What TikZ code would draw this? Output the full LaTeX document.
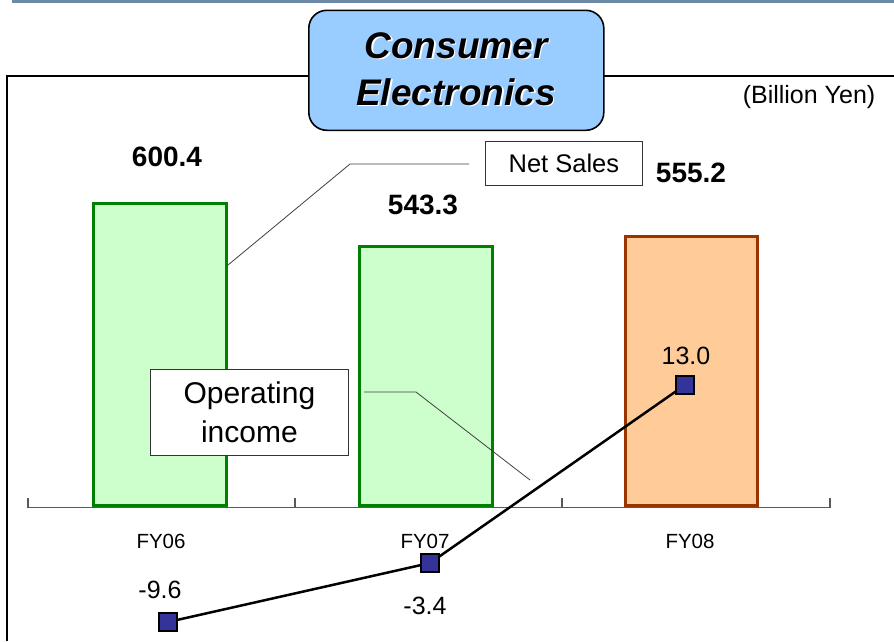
\documentclass[tikz,border=0pt]{standalone}
\usepackage{fontspec}
\setmainfont{Liberation Sans}
\begin{document}
\begin{tikzpicture}[x=1pt,y=-1pt,
  greenbar/.style={draw=green!50!black,line width=3pt,fill={rgb,255:red,204;green,255;blue,204},anchor=south west,inner sep=0pt},
  orangebar/.style={draw={rgb,255:red,153;green,51;blue,0},line width=3pt,fill={rgb,255:red,255;green,204;blue,153},anchor=south west,inner sep=0pt},
  valuelbl/.style={font=\fontsize{28}{30}\selectfont\bfseries,inner sep=0pt},
  pointlbl/.style={font=\fontsize{25}{27}\selectfont,inner sep=0pt},
  yearlbl/.style={font=\fontsize{20.5}{22}\selectfont,inner sep=0pt},
  legendbox/.style={draw=black!80,line width=0.8pt,fill=white,inner sep=0pt,align=center},
  leader/.style={draw=black!75,line width=0.8pt},
  marker/.style={draw=black,line width=2pt,fill={rgb,255:red,51;green,51;blue,153},minimum size=18pt,inner sep=0pt},
  titletext/.style={font=\fontsize{37}{47}\selectfont\bfseries\itshape,align=center,inner sep=0pt}
]
\useasboundingbox (0,0) rectangle (894,641);

% rule along the top edge
\draw[line width=2.5pt,draw={rgb,255:red,108;green,137;blue,166}] (12,1.5) -- (894,1.5);

% chart frame
\draw[line width=1.2pt] (7,641) -- (7,76) -- (308,76);
\draw[line width=1.2pt] (603,76) -- (894,76);

% title box
\node[draw=black,line width=1.6pt,rounded corners=18pt,fill={rgb,255:red,153;green,204;blue,255},
      minimum width=295pt,minimum height=120pt,anchor=north west,inner sep=0pt] (title) at (308,9.5) {};
\node[titletext,text=white] at (457.5,70.5) {Consumer\\Electronics};
\node[titletext] (titlelbl) at (456,69) {Consumer\\Electronics};

\node[font=\fontsize{25}{27}\selectfont,inner sep=0pt] (unit) at (809,97) {(Billion Yen)};

% bars
\node[greenbar,minimum width=133pt,minimum height=302pt] (b06) at (92,507) {};
\node[greenbar,minimum width=133pt,minimum height=259pt] (b07) at (358,507) {};
\node[orangebar,minimum width=132pt,minimum height=269pt] (b08) at (624,507) {};

% category axis
\draw[line width=1.5pt,draw=black!65] (28,507.5) -- (830,507.5);
\foreach \tx in {28,295,562,830}
  \draw[line width=1.2pt,draw=black!65] (\tx,507.5) -- (\tx,498);
\node[yearlbl] (y06) at (161,541) {FY06};
\node[yearlbl] (y07) at (425,541) {FY07};
\node[yearlbl] (y08) at (690,541) {FY08};

% net sales values
\node[valuelbl] (v06) at (167,157) {600.4};
\node[valuelbl] (v07) at (423,205) {543.3};
\node[valuelbl] (v08) at (691,173) {555.2};

% net sales legend and its leader
\node[legendbox,minimum width=157pt,minimum height=44pt,anchor=north west,font=\fontsize{25.5}{27}\selectfont] (ns) at (485,141) {Net Sales};
\coordinate (nsA) at (469,164);
\coordinate (nsB) at (350,164);
\coordinate (nsC) at (228,265);
\draw[leader] (nsA) -- (nsB) -- (nsC);

% operating income legend and its leader
\node[legendbox,minimum width=198pt,minimum height=86pt,anchor=north west,font=\fontsize{30}{39}\selectfont] (oi) at (150,369) {Operating\\income};
\coordinate (oiA) at (364,392);
\coordinate (oiB) at (416,392);
\coordinate (oiC) at (530,480);
\draw[leader] (oiA) -- (oiB) -- (oiC);

% operating income series
\node[marker] (p06) at (168,622) {};
\node[marker] (p07) at (430,563) {};
\node[marker] (p08) at (685,385) {};
\draw[line width=2.5pt] (p06.center) -- (p07.center) -- (p08.center);
\node[marker] at (p06) {};
\node[marker] at (p07) {};
\node[marker] at (p08) {};
\node[pointlbl] (l06) at (160,590) {-9.6};
\node[pointlbl] (l07) at (425,606) {-3.4};
\node[pointlbl] (l08) at (686,356) {13.0};
\end{tikzpicture}
\end{document}
